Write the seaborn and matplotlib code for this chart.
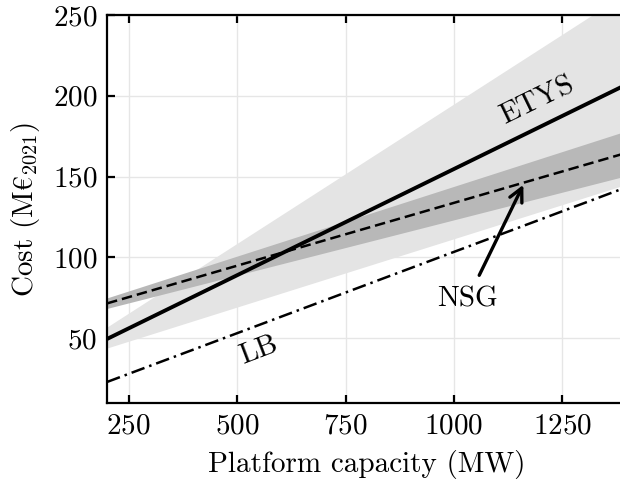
import numpy as np
import pandas as pd
import seaborn as sns
import matplotlib.pyplot as plt

# capacity range (MW) and costs (M EUR 2021)
capacity = [200, 1400]
etys = [49.6, 207.3]
nsg = [71.6, 164.9]
lb = [23.0, 143.7]

# uncertainty bands
etys_lo = [44.0, 145.4]
etys_hi = [57.0, 264.0]
nsg_lo = [68.5, 150.7]
nsg_hi = [75.0, 178.5]

xticks = [250, 500, 750, 1000, 1250]
yticks = [50, 100, 150, 200, 250]

sns.set_style('ticks')
plt.rcParams['font.family'] = ['cmr10', 'DejaVu Serif']
plt.rcParams['mathtext.fontset'] = 'cm'
plt.rcParams['axes.formatter.use_mathtext'] = True
plt.rcParams['font.size'] = 10.5
plt.rcParams['text.color'] = 'black'
plt.rcParams['axes.labelcolor'] = 'black'

df = pd.DataFrame({'capacity': capacity, 'ETYS': etys, 'NSG': nsg, 'LB': lb})

fig = plt.figure(figsize=(3.1, 2.41), dpi=200)
ax = fig.add_axes([0.1726, 0.1639, 1.012 - 0.1726, 0.805])

ax.fill_between(capacity, etys_lo, etys_hi, color='0.895', lw=0, zorder=1)
ax.fill_between(capacity, nsg_lo, nsg_hi, color='0.72', lw=0, zorder=2)

sns.lineplot(data=df, x='capacity', y='ETYS', ax=ax, color='black', lw=1.4, zorder=3)
sns.lineplot(data=df, x='capacity', y='NSG', ax=ax, color='black', lw=0.9,
             linestyle=(0, (4.2, 2.0)), zorder=3)
sns.lineplot(data=df, x='capacity', y='LB', ax=ax, color='black', lw=0.9,
             linestyle=(0, (5.5, 2, 1, 2)), zorder=3)

ax.text(1192, 197, 'ETYS', rotation=26, ha='center', va='center', rotation_mode='anchor')
ax.text(550, 42.5, 'LB', rotation=21, ha='center', va='center', rotation_mode='anchor')
ax.annotate('NSG', xy=(1160, 145), xytext=(1031, 74), ha='center', va='center',
            arrowprops=dict(arrowstyle='->', lw=1.2, color='black', shrinkA=2, shrinkB=0,
                            mutation_scale=12))

ax.set_xlim(200, 1400)
ax.set_ylim(10, 250)
ax.set_xticks(xticks)
ax.set_yticks(yticks)
ax.grid(True, color='0.9', lw=0.5)
ax.set_axisbelow(True)
ax.tick_params(direction='in', length=3, width=0.8, top=True, right=False,
               colors='black', labelcolor='black')
ax.spines['right'].set_visible(False)
for s in ['left', 'bottom', 'top']:
    ax.spines[s].set_color('black')
    ax.spines[s].set_linewidth(0.8)

ax.set_xlabel('Platform capacity (MW)')
ax.set_ylabel('Cost (M$€_{2021}$)')

fig.savefig('out.png', dpi=200)
